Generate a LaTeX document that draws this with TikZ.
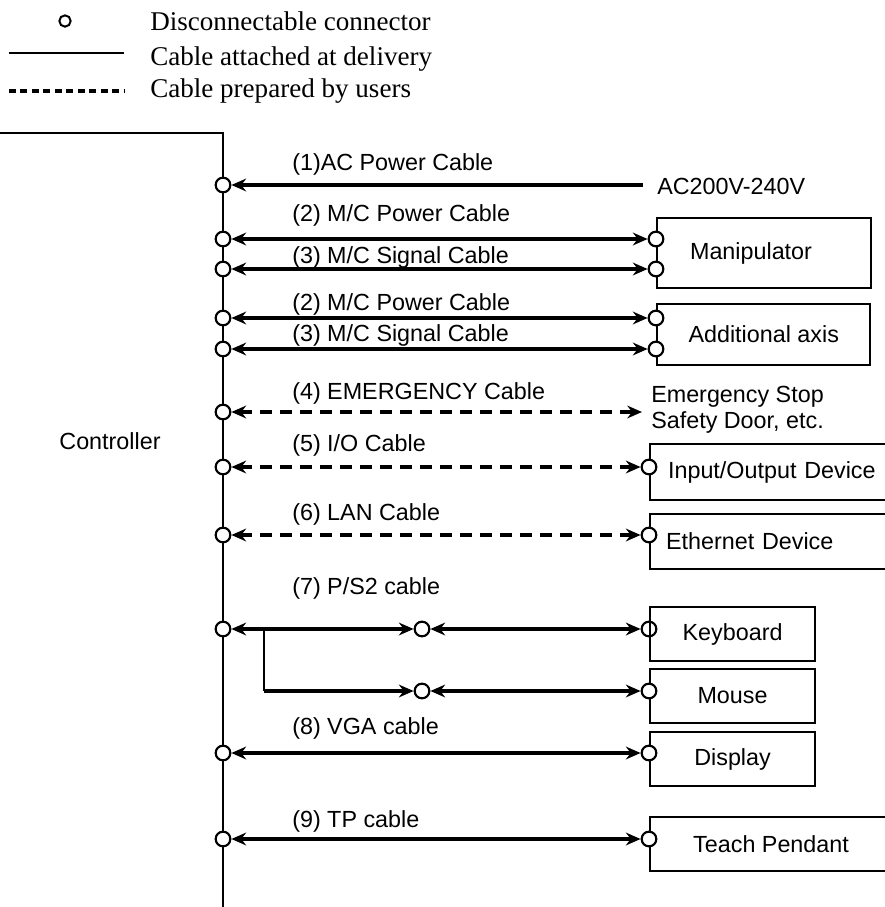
\documentclass[tikz,border=0pt]{standalone}
\usepackage{fontspec}
\setmainfont{Liberation Serif}
\setsansfont{Liberation Sans}
\usetikzlibrary{arrows.meta}

\begin{document}
\begin{tikzpicture}[x={(0.75pt,0)},y={(0,-0.75pt)},>={Stealth[length=11pt,width=9.5pt]},
  con/.style={circle,draw,line width=1.6pt,fill=white,inner sep=0pt,minimum size=11pt},
  cable/.style={line width=2.3pt,<->},
  usercable/.style={cable,dash pattern=on 8.75pt off 6.25pt},
  lbl/.style={anchor=west,inner sep=0pt,font=\sffamily\fontsize{17.5}{19.5}\selectfont},
  device/.style={draw,line width=1.6pt,anchor=north west,font=\sffamily\fontsize{17.5}{20}\selectfont},
  legend/.style={anchor=base west,inner sep=0pt,font=\fontsize{20.3}{24}\selectfont}]
  \clip (0,0) rectangle (885,907);
  % Legende
  \node[circle,draw,line width=1.5pt,inner sep=0pt,minimum size=8.5pt] (lcon) at (65,21) {};
  \coordinate (lsa) at (9,53); \coordinate (lsb) at (124,53);
  \coordinate (lda) at (9,91); \coordinate (ldb) at (124,91);
  \draw[line width=1.3pt] (lsa) -- (lsb);
  \draw[line width=2.3pt,dash pattern=on 5.2pt off 3.4pt] (lda) -- (ldb);
  \node[legend] (tcon) at (150,30) {Disconnectable connector};
  \node[legend] (tsol) at (150,65) {Cable attached at delivery};
  \node[legend] (tdash) at (150,97) {Cable prepared by users};
  % Steuerung
  \draw[line width=1.4pt] (0,133) -| (223,907);
  \node[lbl,anchor=center] (ctrl) at (110,441) {Controller};
  % Geraete
  \node[device,minimum width=160.5pt,minimum height=52.5pt,text width=111pt,inner xsep=24.75pt,align=left] (manip) at (656,217) {Manipulator};
  \node[device,minimum width=160pt,minimum height=45.75pt] (axis) at (656,303) {Additional axis};
  \node[device,minimum height=42pt,text width=161pt,inner xsep=13.5pt,align=left] (iodev) at (649,443) {Input/Output Device};
  \node[device,minimum height=41.25pt,text width=164pt,inner xsep=12pt,align=left] (eth) at (649,513) {Ethernet Device};
  \node[device,minimum width=123.75pt,minimum height=40.5pt] (kb) at (649,606) {Keyboard};
  \node[device,minimum width=123.75pt,minimum height=40.5pt] (mouse) at (649,668) {Mouse};
  \node[device,minimum width=123.75pt,minimum height=40.5pt] (disp) at (649,731) {Display};
  \node[device,minimum width=181.5pt,minimum height=40.5pt] (tpd) at (649,816) {Teach Pendant};
  \node[lbl] (acv) at (657,186) {AC200V-240V};
  \node[lbl,align=left] (emt) at (651,410) {Emergency Stop\\Safety Door, etc.};
  % Stecker
  \foreach \n/\y in {ac/185,mp/239,ms/269,ap/318,as/349,em/412,io/467,lan/535,ps/629,vga/753,tp/839}
    \node[con] (c\n) at (223,\y) {};
  \foreach \n/\x/\y in {mp/656/239,ms/656/269,ap/656/318,as/656/349,io/649/467,lan/649/535,mo/649/691,vga/649/753,tp/649/839}
    \node[con] (d\n) at (\x,\y) {};
  \node[con,fill=none] (dkb) at (649,629) {};
  \node[con] (mkb) at (422,629) {};
  \node[con] (mmo) at (422,691) {};
  \coordinate (acin) at (643,185);
  \coordinate (emout) at (642,412);
  \coordinate (br) at (264,629);
  \coordinate (brk) at (264,691);
  % Kabel
  \draw[cable,<-] (cac) -- (acin);
  \foreach \n in {mp,ms,ap,as,vga,tp} \draw[cable] (c\n) -- (d\n);
  \draw[usercable] (cem) -- (emout);
  \foreach \n in {io,lan} \draw[usercable] (c\n) -- (d\n);
  \draw[cable] (cps) -- (mkb);
  \draw[cable] (mkb) -- (dkb);
  \draw[line width=1.6pt] (br) -- (brk);
  \draw[cable,->] (brk) -- (mmo);
  \draw[cable] (mmo) -- (dmo);
  % Beschriftung
  \node[lbl] (l1) at (292,164) {(1)AC Power Cable};
  \node[lbl] (l2a) at (292,215) {(2) M/C Power Cable};
  \node[lbl] (l3a) at (292,257) {(3) M/C Signal Cable};
  \node[lbl] (l2b) at (292,304) {(2) M/C Power Cable};
  \node[lbl] (l3b) at (292,335) {(3) M/C Signal Cable};
  \node[lbl] (l4) at (292,393) {(4) EMERGENCY Cable};
  \node[lbl] (l5) at (292,445) {(5) I/O Cable};
  \node[lbl] (l6) at (292,514) {(6) LAN Cable};
  \node[lbl] (l7) at (292,588) {(7) P/S2 cable};
  \node[lbl] (l8) at (292,728) {(8) VGA cable};
  \node[lbl] (l9) at (292,821) {(9) TP cable};
\end{tikzpicture}
\end{document}
